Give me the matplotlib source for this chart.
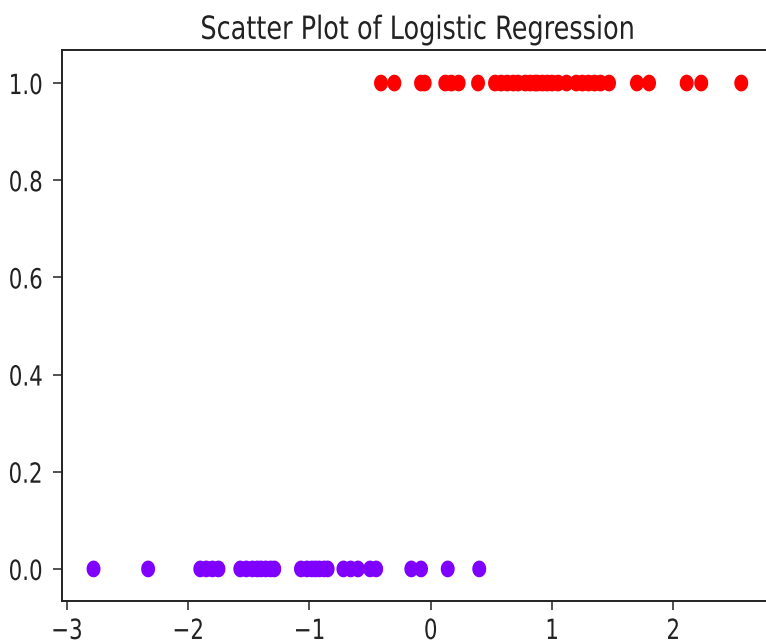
import matplotlib
matplotlib.use("Agg")
import matplotlib.pyplot as plt
import numpy as np
from matplotlib.path import Path
from matplotlib.transforms import Affine2D
from matplotlib.patheffects import AbstractPathEffect

# Data
x_class0 = [-2.78, -2.33, -1.90, -1.85, -1.80, -1.75, -1.57, -1.52, -1.47, -1.43,
            -1.40, -1.36, -1.32, -1.29, -1.07, -1.02, -0.98, -0.95, -0.92, -0.88,
            -0.85, -0.72, -0.66, -0.60, -0.50, -0.45, -0.16, -0.08, 0.14, 0.40]
x_class1 = [-0.41, -0.30, -0.08, -0.05, 0.12, 0.17, 0.23, 0.39, 0.53, 0.58,
            0.63, 0.68, 0.72, 0.78, 0.82, 0.86, 0.88, 0.92, 0.96, 1.00,
            1.05, 1.12, 1.20, 1.25, 1.30, 1.35, 1.40, 1.47, 1.70, 1.80,
            2.11, 2.23, 2.56]
labels_class0 = [0] * len(x_class0)
labels_class1 = [1] * len(x_class1)
title = "Scatter Plot of Logistic Regression"
xticks = [-3, -2, -1, 0, 1, 2]
yticks = [0.0, 0.2, 0.4, 0.6, 0.8, 1.0]


class HScale(AbstractPathEffect):
    """Narrow the glyphs horizontally (the reference text is condensed)."""
    def __init__(self, sx, anchor):
        super().__init__()
        self.sx = sx
        self.anchor = anchor

    def draw_path(self, renderer, gc, tpath, affine, rgbFace=None):
        ext = tpath.get_extents()
        a = ext.x0 + self.anchor * (ext.x1 - ext.x0)
        t = Affine2D().translate(-a, 0).scale(self.sx, 1).translate(a, 0) + affine
        renderer.draw_path(gc, tpath, t, rgbFace)


fam = "DejaVu Sans"

X = np.array(x_class0 + x_class1)
Y = np.array(labels_class0 + labels_class1)

fig = plt.figure(figsize=(7.66, 6.43), dpi=100)
ax = fig.add_axes([62/766, 42/643, 712/766, 551/643])

t = np.linspace(0, 2*np.pi, 40)
ell = Path(np.column_stack([np.cos(t), 1.2*np.sin(t)]), closed=True)
ax.scatter(X, Y, c=Y, cmap="rainbow", s=145, marker=ell, linewidths=0)

ax.set_xlim(-3.04, 2.83)
ax.set_ylim(-0.066, 1.068)
ax.set_xticks(xticks)
ax.set_yticks(yticks)
xl = ax.set_xticklabels([f"{v:d}".replace("-", "\u2212") for v in xticks], family=fam, fontsize=20)
yl = ax.set_yticklabels([f"{v:.1f}" for v in yticks], family=fam, fontsize=20)
for lab in xl:
    lab.set_path_effects([HScale(0.77, 0.5)])
for lab in yl:
    lab.set_path_effects([HScale(0.77, 1.0)])
ax.tick_params(length=6.5, width=1.1, color="#222222", labelcolor="#222222")
ax.tick_params(axis="y", pad=7)
ax.tick_params(axis="x", pad=5)
for s in ax.spines.values():
    s.set_linewidth(1.4)
    s.set_color("#222222")
tt = ax.set_title(title, family=fam, fontsize=23, pad=8, color="#222222")
tt.set_path_effects([HScale(0.80, 0.5)])
fig.savefig("out.png", dpi=100)
